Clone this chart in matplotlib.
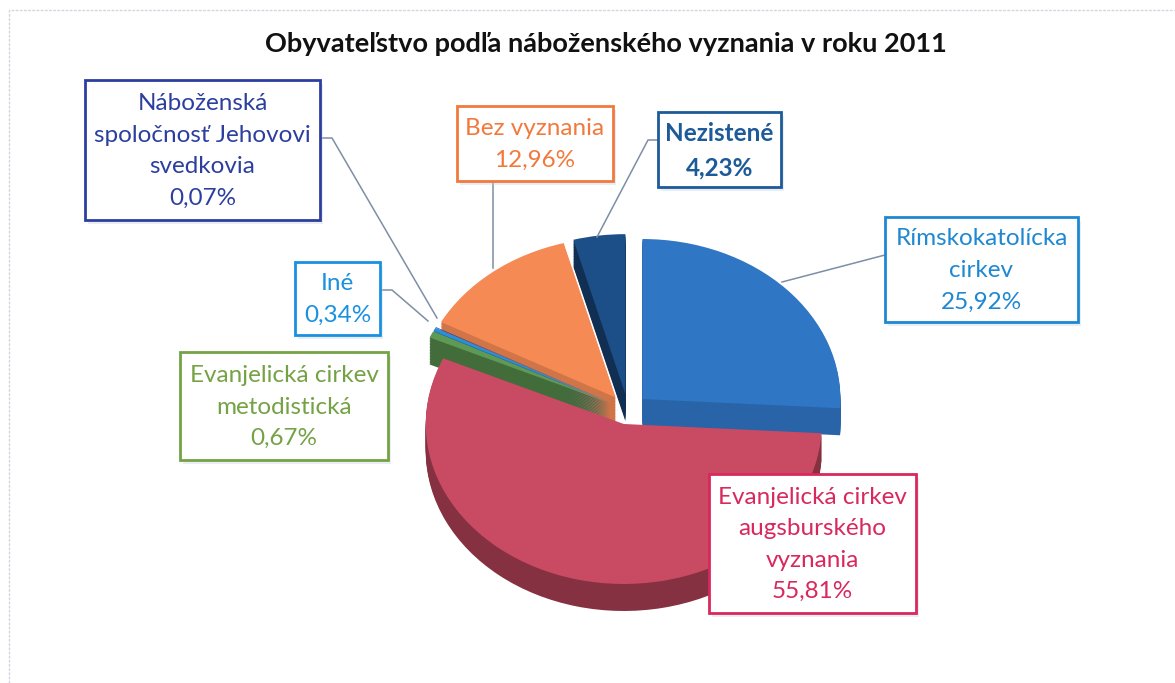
"""Obyvatelstvo podla nabozenskeho vyznania - 3D pie recreation."""
import matplotlib.pyplot as plt
import matplotlib.colors as mcolors
from matplotlib.patches import Rectangle

# data, clockwise from the top of the pie
categories = [
    "Rímskokatolícka\ncirkev",
    "Evanjelická cirkev\naugsburského\nvyznania",
    "Evanjelická cirkev\nmetodistická",
    "Iné",
    "Náboženská\nspoločnosť Jehovovi\nsvedkovia",
    "Bez vyznania",
    "Nezistené",
]
shares = [25.92, 55.81, 0.67, 0.34, 0.07, 12.96, 4.23]
title = "Obyvateľstvo podľa náboženského vyznania v roku 2011"

slice_colors = ["#2f76c4", "#c94a63", "#5f9a55", "#2a8fd6",
                "#2b3f9a", "#f58a55", "#1c4f88"]
wall_shade = [0.85, 0.66, 0.7, 0.7, 0.7, 0.85, 0.6]
label_colors = ["#1e88d2", "#d8285c", "#74a244", "#1a90e0",
                "#2c3f9f", "#f2793c", "#1d5a98"]
explode = [0.1, 0.09, 0.1, 0.1, 0.1, 0.1, 0.1]

W, H = 1175, 683
fig = plt.figure(figsize=(W / 100, H / 100), dpi=100)

# pie axes, squashed so the pie looks tilted
cx, cy, rx, ry = 628, 410, 198, 160
lim = 1.5
pw, ph = 2 * lim * rx, 2 * lim * ry
pax = fig.add_axes([(cx - pw / 2) / W, (H - cy - ph / 2) / H, pw / W, ph / H])
pax.set_zorder(1)
pax.patch.set_alpha(0)

# side walls: stacked darker copies below the top face
depth = 27 / ry
layers = 18
dark = [tuple(c * s for c in mcolors.to_rgb(col))
        for col, s in zip(slice_colors, wall_shade)]
for k in range(layers):
    off = -depth + depth * k / layers
    pax.pie(shares, colors=dark, explode=explode, startangle=90,
            counterclock=False, center=(0, off),
            wedgeprops=dict(linewidth=0))
pax.pie(shares, colors=slice_colors, explode=explode, startangle=90,
        counterclock=False, center=(0, 0),
        wedgeprops=dict(linewidth=0))
pax.set_aspect("auto")
pax.set_xlim(-lim, lim)
pax.set_ylim(-lim, lim)
pax.axis("off")

# overlay axes in pixel units for title, boxes and leader lines
bg = fig.add_axes([0, 0, 1, 1])
bg.set_zorder(2)
bg.patch.set_visible(False)
bg.set_xlim(0, W)
bg.set_ylim(H, 0)
bg.axis("off")

bg.text(606, 44, title, ha="center", va="center", fontsize=19.5,
        fontweight="bold", family=["Lato", "DejaVu Sans"], color="#111111")

# faint chart frame
bg.plot([9, 9, W], [H, 10, 10], color="#d4d6e0", lw=1, ls=(0, (2, 1)))

# label boxes: (x0, y0, x1, y1) in pixels
boxes = [
    (885, 217, 1078, 322),
    (709, 474, 916, 613),
    (180, 352, 388, 460),
    (295, 262, 380, 335),
    (85, 80, 320, 220),
    (457, 106, 613, 181),
    (658, 112, 781, 187),
]
leaders = [
    [(885, 255), (782, 282)],
    None,
    None,
    [(380, 290), (392, 290), (428, 321)],
    [(320, 138), (332, 138), (437, 318)],
    [(493, 181), (493, 268)],
    [(658, 140), (648, 140), (597, 237)],
]

for i, cat in enumerate(categories):
    x0, y0, x1, y1 = boxes[i]
    col = label_colors[i]
    if leaders[i]:
        xs, ys = zip(*leaders[i])
        bg.plot(xs, ys, color="#7d8ea6", lw=1.1, zorder=1)
    bg.add_patch(Rectangle((x0 + 3, y0 + 4), x1 - x0, y1 - y0,
                           facecolor="#c8cce0", edgecolor="none",
                           alpha=0.35, zorder=2))
    bg.add_patch(Rectangle((x0, y0), x1 - x0, y1 - y0, facecolor="white",
                           edgecolor=col, lw=2, zorder=3))
    txt = cat + "\n" + f"{shares[i]:.2f}".replace(".", ",") + "%"
    bg.text((x0 + x1) / 2, (y0 + y1) / 2 + 1, txt, ha="center",
            va="center", color=col, fontsize=17.5, linespacing=1.62,
            family=["Lato", "DejaVu Sans"],
            fontweight="bold" if cat == "Nezistené" else "normal",
            zorder=4)

fig.savefig("out.png", dpi=100)
